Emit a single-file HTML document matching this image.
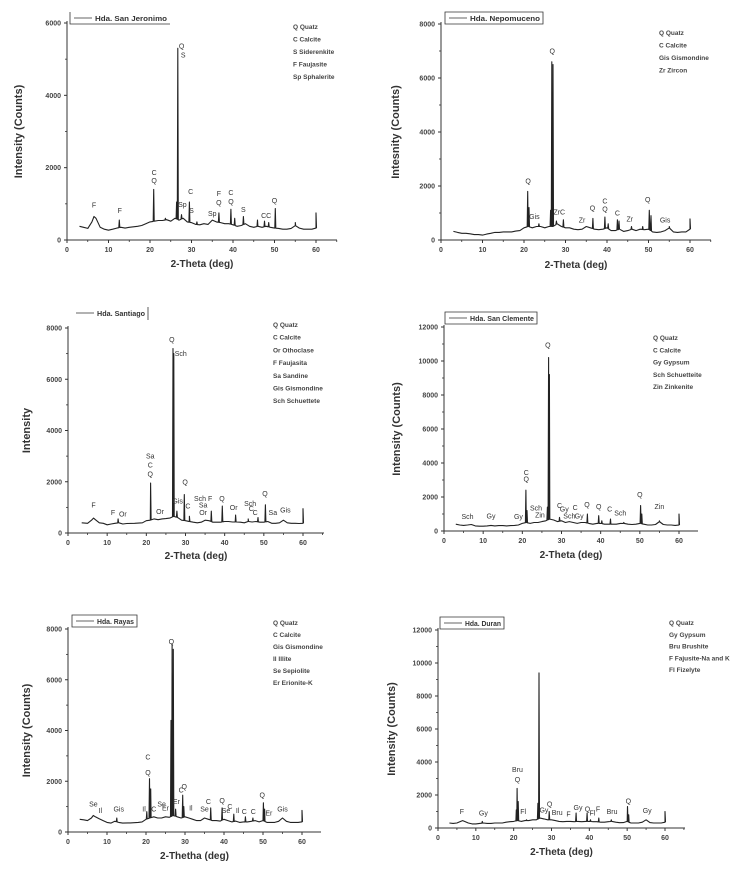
<!DOCTYPE html>
<html><head><meta charset="utf-8">
<style>
html,body{margin:0;padding:0;background:#fff;}
svg{display:block;font-family:"Liberation Sans",Arial,sans-serif;}
</style></head>
<body>
<svg id="fig" width="755" height="878" viewBox="0 0 755 878" xmlns="http://www.w3.org/2000/svg"></svg>
<script>
const xTicks = [0,10,20,30,40,50,60];
// ---- Panel 1: San Jeronimo
const p1Names = ["Hda. San Jeronimo"];
const p1YTicks = [0,2000,4000,6000];
const p1Base = [[3,380],[4,350],[5,320],[6,500],[6.5,650],[7,600],[8,350],[9,300],[10,270],[11,300],[12,330],[13,350],[14,330],[15,350],[17,380],[18,400],[19,450],[20,500],[21,520],[22,540],[23,540],[24,560],[25,520],[26,600],[27,550],[28,600],[29,500],[30,480],[31,430],[32,420],[33,450],[34,430],[35,550],[36,500],[37,480],[38,450],[39,450],[40,420],[41,380],[42,400],[43,450],[44,380],[45,350],[46,380],[47,350],[48,380],[49,350],[50,330],[51,320],[52,300],[53,300],[54,320],[55,400],[56,330],[57,300],[58,300],[59,300],[60,330]];
const p1Peaks = [[12.6,550],[20.9,1400],[23.7,600],[26.4,1050],[26.7,5300],[27.6,700],[29.5,1050],[31.3,500],[36.6,750],[39.5,850],[40.4,600],[42.5,650],[45.9,550],[47.6,520],[48.6,480],[50.2,870],[55,480],[60,750]];
const p1Ann = [["F",6.5,900],["F",12.7,740],["C",21,1800],["Q",21,1570],["Q",27.6,5300],["S",28,5050],["C",29.8,1270],["Sp",27.8,910],["S",30,750],["Sp",35,660],["F",36.6,1210],["Q",36.6,970],["C",39.5,1240],["Q",39.5,990],["S",42.5,770],["CC",48,610],["Q",50,1020]];
const p1Min = ["Q Quatz","C Calcite","S Siderenkite","F Faujasite","Sp Sphalerite"];
// ---- Panel 2: Nepomuceno
const p2Names = ["Hda. Nepomuceno"];
const p2YTicks = [0,2000,4000,6000,8000];
const p2Base = [[3,320],[4,280],[5,250],[6,250],[7,230],[8,200],[9,200],[10,180],[11,220],[12,250],[13,280],[14,280],[15,300],[16,300],[17,300],[18,330],[19,350],[20,450],[21,500],[22,450],[23,500],[24,500],[25,450],[26,500],[27,500],[28,600],[29,500],[30,450],[31,450],[32,400],[33,380],[34,400],[35,500],[36,450],[37,400],[38,380],[39,400],[40,450],[41,350],[42,350],[43,400],[44,320],[45,350],[46,400],[47,350],[48,400],[49,380],[50,400],[51,300],[52,280],[53,300],[54,350],[55,450],[56,300],[57,280],[58,300],[59,300],[60,400]];
const p2Peaks = [[20.9,1800],[21.2,1200],[23.6,600],[26.4,1100],[26.7,6600],[27,6500],[27.8,700],[29.5,750],[36.6,800],[39.5,850],[40.3,600],[42.5,750],[42.9,700],[45.9,500],[48.6,500],[50.2,1100],[50.6,900],[55,500],[60,780]];
const p2Ann = [["Q",21,2100],["Gis",22.5,780],["Q",26.8,6900],["ZrC",28.5,950],["Zr",34,650],["Q",36.5,1100],["C",39.5,1350],["Q",39.5,1050],["C",42.5,900],["Zr",45.5,680],["Q",49.8,1400],["Gis",54,650]];
const p2Min = ["Q    Quatz","C    Calcite","Gis Gismondine"," Zr  Zircon"];
// ---- Panel 3: Santiago
const p3Names = ["Hda. Santiago"];
const p3YTicks = [0,2000,4000,6000,8000];
const p3Base = [[3.5,400],[5,380],[6,500],[6.5,580],[7,520],[8,400],[9,380],[10,320],[11,350],[12,380],[13,400],[14,350],[15,370],[17,380],[19,400],[20,480],[21,500],[22,550],[23,520],[24,550],[25,560],[26,580],[27,650],[28,600],[29,500],[30,480],[31,450],[32,420],[33,400],[34,420],[35,500],[36,480],[37,420],[38,420],[39,420],[40,450],[41,450],[42,430],[43,430],[44,420],[45,400],[46,450],[47,430],[48,450],[49,420],[50,420],[51,450],[52,380],[53,380],[54,400],[55,500],[56,400],[57,380],[58,380],[59,370],[60,380]];
const p3Peaks = [[12.8,550],[21.1,1950],[26.8,7200],[27,7000],[27.8,850],[29.7,1500],[31,650],[36.6,850],[39.4,1050],[42.8,700],[46,550],[48.5,600],[50.4,1100],[60,950]];
const p3Ann = [["F",6.5,1000],["F",11.5,700],["Or",14,650],["Sa",21,2900],["C",21,2550],["Q",21,2200],["Or",23.5,750],["Q",26.5,7450],["Sch",28.8,6900],["Gis",28,1150],["C",30.6,950],["Q",29.9,1900],["Sch F",34.5,1250],["Sa",34.5,1000],["Or",34.5,700],["Q",39.3,1250],["Or",42.3,900],["Sch",46.5,1050],["C",46.8,850],["C",47.8,700],["Q",50.3,1450],["Sa",52.3,700],["Gis",55.5,800]];
const p3Min = ["Q  Quatz","C  Calcite","Or Othoclase","F   Faujasita","Sa Sandine","Gis Gismondine","Sch Schuettete"];
// ---- Panel 4: San Clemente
const p4Names = ["Hda. San Clemente"];
const p4YTicks = [0,2000,4000,6000,8000,10000,12000];
const p4Base = [[3,400],[4,350],[5,330],[6,350],[7,380],[8,300],[9,280],[10,280],[11,300],[12,330],[13,300],[14,320],[15,320],[16,300],[17,320],[18,330],[19,350],[20,450],[21,500],[22,450],[23,500],[24,500],[25,550],[26,600],[27,700],[28,650],[29,550],[30,600],[31,500],[32,550],[33,500],[34,450],[35,500],[36,500],[37,450],[38,400],[39,450],[40,450],[41,400],[42,400],[43,400],[44,400],[45,450],[46,450],[47,400],[48,380],[49,400],[50,450],[51,400],[52,350],[53,350],[54,380],[55,550],[56,380],[57,350],[58,350],[59,330],[60,350]];
const p4Peaks = [[20.9,2400],[21.2,1200],[26.4,1400],[26.7,10200],[26.9,9200],[29.5,800],[36.6,1000],[39.5,900],[40.3,600],[42.5,700],[45.9,500],[50.2,1500],[50.5,1000],[55,600],[60,1000]];
const p4Ann = [["Sch",6,700],["Gy",12,750],["Gy",19,700],["C",21,3300],["Q",21,2900],["Sch",23.5,1200],["Zin",24.5,800],["Q",26.5,10800],["C",29.5,1350],["Gy",30.7,1150],["C",33.5,1250],["Sch",32,750],["Gy",34.5,750],["Q",36.5,1400],["Q",39.5,1300],["C",42.3,1150],["Sch",45,900],["Q",50,2000],["Zin",55,1300]];
const p4Min = ["Q   Quatz","C    Calcite","Gy  Gypsum","Sch Schuetteite","Zin   Zinkenite"];
// ---- Panel 5: Rayas
const p5Names = ["Hda. Rayas"];
const p5YTicks = [0,2000,4000,6000,8000];
const p5Base = [[3,500],[4,480],[5,450],[6,550],[6.5,650],[7,600],[8,520],[9,450],[10,380],[11,350],[12,420],[13,380],[14,350],[16,360],[18,380],[19,400],[20,500],[21,550],[22,600],[23,550],[24,550],[25,600],[26,580],[27,650],[28,600],[29,550],[30,600],[31,550],[32,500],[33,450],[34,450],[35,550],[36,500],[37,450],[38,450],[39,430],[40,500],[41,450],[42,400],[43,430],[44,380],[45,400],[46,400],[47,420],[48,450],[49,400],[50,450],[51,380],[52,380],[53,380],[54,420],[55,550],[56,420],[57,380],[58,380],[59,380],[60,400]];
const p5Peaks = [[12.5,550],[20.2,800],[20.9,2100],[21.2,1700],[26.4,4400],[26.7,7400],[27,7200],[27.6,900],[29.4,1450],[29.7,1000],[36.6,950],[39.5,950],[42.5,700],[45.5,600],[47.4,550],[50.1,1150],[50.4,900],[60,850]];
const p5Ann = [["Se",6.5,1000],["Il",8.3,750],["Gis",13,800],["Il",19.5,800],["C",22,800],["Se",24,1000],["Er",25,850],["Er",27.8,1100],["Q",26.5,7400],["C",20.5,2850],["Q",20.5,2250],["C",29,1550],["Q",29.8,1700],["Il",31.5,850],["Se",35,800],["C",36,1100],["Q",39.5,1150],["Se",40.5,750],["C",41.5,900],["Il",43.5,750],["C",45.2,700],["C",47.5,700],["Q",49.8,1350],["Er",51.5,650],["Gis",55,800]];
const p5Min = ["Q   Quatz","C   Calcite","Gis Gismondine","Il    Illite","Se Sepiolite","Er  Erionite-K"];
// ---- Panel 6: Duran
const p6Names = ["Hda. Duran"];
const p6YTicks = [0,2000,4000,6000,8000,10000,12000];
const p6Base = [[3,300],[4,280],[5,300],[6,400],[6.5,450],[7,400],[8,300],[9,250],[10,250],[11,280],[12,300],[13,280],[14,280],[15,300],[16,300],[17,300],[18,350],[19,380],[20,400],[21,450],[22,400],[23,450],[24,450],[25,500],[26,500],[27,600],[28,550],[29,500],[30,500],[31,450],[32,400],[33,380],[34,400],[35,400],[36,380],[37,400],[38,380],[39,400],[40,400],[41,380],[42,380],[43,350],[44,350],[45,380],[46,400],[47,350],[48,320],[49,330],[50,400],[51,300],[52,300],[53,300],[54,350],[55,500],[56,330],[57,300],[58,300],[59,300],[60,350]];
const p6Peaks = [[11.7,400],[20.7,1100],[20.9,2400],[21.2,1600],[23.4,500],[26.4,1500],[26.7,9400],[29.4,1000],[36.5,900],[39.4,900],[40.3,500],[42.5,600],[45.8,500],[50.1,1300],[50.4,800],[60,1000]];
const p6Ann = [["F",6.3,850],["Gy",12,750],["Bru",21,3400],["Q",21,2800],["Fl",22.5,850],["Gy",28,950],["Bru",31.5,800],["Q",29.5,1300],["F",34.5,700],["Gy",37,1100],["Q",39.5,1000],["Fl",40.8,750],["F",42.3,1000],["Bru",46,850],["Q",50.3,1500],["Gy",55.3,900]];
const p6Min = ["Q    Quatz","Gy  Gypsum","Bru Brushite","F Fajusite-Na and K","Fl Fizelyte"];

const NS = "http://www.w3.org/2000/svg";
const fig = document.getElementById("fig");
function mk(tag, attrs, parent){
  const e = document.createElementNS(NS, tag);
  for (const k in attrs) e.setAttribute(k, attrs[k]);
  (parent||fig).appendChild(e);
  return e;
}
const panels = [
 {id:"p1", names:p1Names, yt:p1YTicks, base:p1Base, peaks:p1Peaks, ann:p1Ann, min:p1Min, x0:67, x60:316, xEnd:337, y0:240, yTop:23, ylab:"Intensity (Counts)", ylx:22, xlab:"2-Theta (deg)", xly:267, minX:293, minY:29, minDy:12.5, leg:[70,12,100,"lb"]},
 {id:"p2", names:p2Names, yt:p2YTicks, base:p2Base, peaks:p2Peaks, ann:p2Ann, min:p2Min, x0:441, x60:690, xEnd:711, y0:240, yTop:24, ylab:"Intesnity (Counts)", ylx:399, xlab:"2-Theta (deg)", xly:268, minX:659, minY:35, minDy:12.5, leg:[445,12,98,"box"]},
 {id:"p3", names:p3Names, yt:p3YTicks, base:p3Base, peaks:p3Peaks, ann:p3Ann, min:p3Min, x0:68, x60:303, xEnd:324, y0:533, yTop:328, ylab:"Intensity", ylx:30, xlab:"2-Theta (deg)", xly:559, minX:273, minY:327, minDy:12.7, leg:[72,307,76,"r"]},
 {id:"p4", names:p4Names, yt:p4YTicks, base:p4Base, peaks:p4Peaks, ann:p4Ann, min:p4Min, x0:444, x60:679, xEnd:698, y0:531, yTop:327, ylab:"Intensity (Counts)", ylx:400, xlab:"2-Theta (deg)", xly:558, minX:653, minY:340, minDy:12.3, leg:[445,312,92,"box"]},
 {id:"p5", names:p5Names, yt:p5YTicks, base:p5Base, peaks:p5Peaks, ann:p5Ann, min:p5Min, x0:68, x60:302, xEnd:321, y0:832, yTop:629, ylab:"Intensity (Counts)", ylx:30, xlab:"2-Thetha (deg)", xly:859, minX:273, minY:625, minDy:12, leg:[72,615,65,"box"]},
 {id:"p6", names:p6Names, yt:p6YTicks, base:p6Base, peaks:p6Peaks, ann:p6Ann, min:p6Min, x0:438, x60:665, xEnd:685, y0:828, yTop:630, ylab:"Intensity (Counts)", ylx:395, xlab:"2-Theta (deg)", xly:855, minX:669, minY:625, minDy:11.8, leg:[440,617,64,"box"]}
];

panels.forEach(function(p){
  const g = mk("g", {});
  
  
  const yMax = p.yt[p.yt.length-1];
  const sx = function(v){ return p.x0 + (p.x60 - p.x0) * v / 60; };
  const sy = function(v){ return p.y0 - (p.y0 - p.yTop) * v / yMax; };
  const ax = mk("path", {d:"M"+p.x0+","+(p.yTop-2)+"V"+p.y0+"H"+p.xEnd, stroke:"#333", "stroke-width":1, fill:"none"}, g);
  
  
  xTicks.forEach(function(t){
    const x = sx(t);
    const tk = mk("line", {x1:x, x2:x, y1:p.y0, y2:p.y0+3, stroke:"#333", "stroke-width":1}, g);
    
    
    const mx = sx(t+5);
    if (mx < p.xEnd) {
      const mt = mk("line", {x1:mx, x2:mx, y1:p.y0, y2:p.y0+2, stroke:"#333", "stroke-width":0.8}, g);
      
      
    }
    const tl = mk("text", {x:x, y:p.y0+12, "font-size":7, "font-weight":"bold", fill:"#444", "text-anchor":"middle"}, g);
    tl.textContent = t;
    
    
  });
  p.yt.forEach(function(t, i){
    const y = sy(t);
    const tk = mk("line", {x1:p.x0-3, x2:p.x0, y1:y, y2:y, stroke:"#333", "stroke-width":1}, g);
    
    
    if (i < p.yt.length-1) {
      const my = sy((t + p.yt[i+1]) / 2);
      const mt = mk("line", {x1:p.x0-2, x2:p.x0, y1:my, y2:my, stroke:"#333", "stroke-width":0.8}, g);
      
      
    }
    const tl = mk("text", {x:p.x0-6, y:y+2.5, "font-size":7, "font-weight":"bold", fill:"#444", "text-anchor":"end"}, g);
    tl.textContent = t;
    
    
  });
  const xt = mk("text", {x:(p.x0 + p.xEnd)/2, y:p.xly, "font-size":10, "font-weight":"bold", fill:"#333", "text-anchor":"middle"}, g);
  xt.textContent = p.xlab;
  
  
  const yc = (p.y0 + p.yTop)/2;
  const yt = mk("text", {x:p.ylx, y:yc, "font-size":11, "font-weight":"bold", fill:"#333", "text-anchor":"middle", transform:"rotate(-90 "+p.ylx+" "+yc+")"}, g);
  yt.textContent = p.ylab;
  
  
  const pts = p.base.map(function(b){ return [b[0], b[1]]; });
  p.peaks.forEach(function(pk){
    pts.push([pk[0]-0.12, -1]); pts.push([pk[0], pk[1]]); pts.push([pk[0]+0.12, -1]);
  });
  pts.sort(function(a,b){ return a[0]-b[0]; });
  function baseAt(x){
    const b = p.base;
    if (x <= b[0][0]) return b[0][1];
    for (let i=1;i<b.length;i++){ if (x <= b[i][0]) { const f=(x-b[i-1][0])/(b[i][0]-b[i-1][0]); return b[i-1][1]+f*(b[i][1]-b[i-1][1]); } }
    return b[b.length-1][1];
  }
  let d = "";
  pts.forEach(function(q, i){
    const v = q[1] < 0 ? baseAt(q[0]) : q[1];
    d += (i ? "L" : "M") + sx(q[0]).toFixed(1) + "," + sy(v).toFixed(1);
  });
  const line = mk("path", {d:d, stroke:"#222", "stroke-width":1.1, fill:"none", "stroke-linejoin":"round"}, g);
  
  
  p.ann.forEach(function(a){
    const t = mk("text", {x:sx(a[1]), y:sy(a[2]), "font-size":7, fill:"#333", "text-anchor":"middle"}, g);
    t.textContent = a[0];
    
    
  });
  p.min.forEach(function(m, i){
    const t = mk("text", {x:p.minX, y:p.minY + i*p.minDy, "font-size":6.5, "font-weight":"bold", fill:"#444", "xml:space":"preserve"}, g);
    t.textContent = m;
    
    
  });
  const L = p.leg, lx = L[0], ly = L[1], lw = L[2];
  let bd;
  if (L[3] === "lb") bd = "M"+lx+","+ly+"V"+(ly+12)+"H"+(lx+lw);
  else if (L[3] === "r") bd = "M"+(lx+lw)+","+ly+"V"+(ly+13);
  else bd = "M"+lx+","+ly+"H"+(lx+lw)+"V"+(ly+12)+"H"+lx+"Z";
  const lb = mk("path", {d:bd, stroke:"#333", "stroke-width":0.8, fill:"none"}, g);
  
  
  const ll = mk("line", {x1:lx+4, x2:lx+22, y1:ly+6, y2:ly+6, stroke:"#333", "stroke-width":0.8}, g);
  
  
  const lt = mk("text", {x:lx+25, y:ly+9, "font-size":7, "font-weight":"bold", fill:"#333", textLength:lw-28, lengthAdjust:"spacingAndGlyphs"}, g);
  lt.textContent = p.names[0];
  
  
});
</script>
</body></html>
